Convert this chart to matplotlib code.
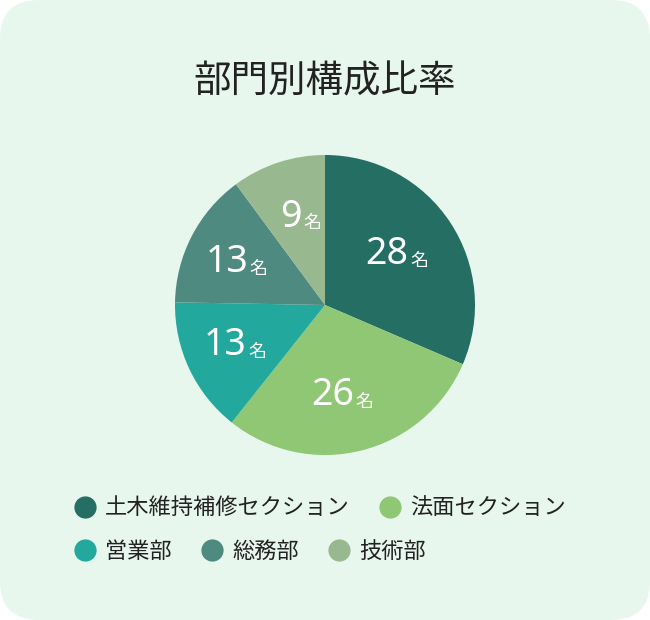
import numpy as np
import matplotlib
matplotlib.use("Agg")
import matplotlib.pyplot as plt
from matplotlib.patches import FancyBboxPatch
from matplotlib.lines import Line2D

plt.rcParams['font.family'] = ['Noto Sans CJK JP', 'DejaVu Sans']

departments = ['土木維持補修セクション', '法面セクション', '営業部', '総務部', '技術部']
counts = [28, 26, 13, 13, 9]
colors = ['#246e63', '#8fc774', '#22a89c', '#4e8a80', '#98b890']

fig = plt.figure(figsize=(6.5, 6.2), dpi=100)
fig.patch.set_facecolor('white')

bg = FancyBboxPatch((0.0, 0.0), 1.0, 1.0, boxstyle="round,pad=0,rounding_size=0.06",
                    transform=fig.transFigure, facecolor='#e8f7ee', edgecolor='none',
                    mutation_aspect=650 / 620, zorder=-10)
fig.patches.append(bg)

fig.text(0.5, 0.868, '部門別構成比率', ha='center', va='center', fontsize=27, color='#222222')

ax = fig.add_axes([0.5 - 150 / 650, 1 - 455 / 620, 300 / 650, 300 / 620])
wedges, _ = ax.pie(counts, colors=colors, startangle=90, counterclock=False,
                   wedgeprops=dict(linewidth=0))
ax.set_xlim(-1, 1)
ax.set_ylim(-1, 1)
ax.set_aspect('equal')
ax.axis('off')

for w, n in zip(wedges, counts):
    ang = np.deg2rad((w.theta1 + w.theta2) / 2)
    r = 0.62
    x, y = r * np.cos(ang), r * np.sin(ang)
    ax.text(x + 0.04, y, str(n), ha='right', va='center', fontsize=27, color='white',
            family=['Noto Sans', 'DejaVu Sans'])
    ax.text(x + 0.05, y - 0.045, '名', ha='left', va='center', fontsize=13, color='white')

def handle(c):
    return Line2D([], [], marker='o', linestyle='none', markersize=16,
                  markerfacecolor=c, markeredgecolor='none')

leg1 = fig.legend([handle(c) for c in colors[:2]], departments[:2], ncol=2,
                  loc='center left', bbox_to_anchor=(0.08, 1 - 508 / 620), frameon=False,
                  fontsize=16, handletextpad=0.3, columnspacing=1.2, handlelength=1.2)
leg2 = fig.legend([handle(c) for c in colors[2:]], departments[2:], ncol=3,
                  loc='center left', bbox_to_anchor=(0.08, 1 - 551 / 620), frameon=False,
                  fontsize=16, handletextpad=0.3, columnspacing=1.2, handlelength=1.2)
for leg in (leg1, leg2):
    for t in leg.get_texts():
        t.set_color('#222222')

fig.savefig('out.png', dpi=100, facecolor=fig.get_facecolor())
